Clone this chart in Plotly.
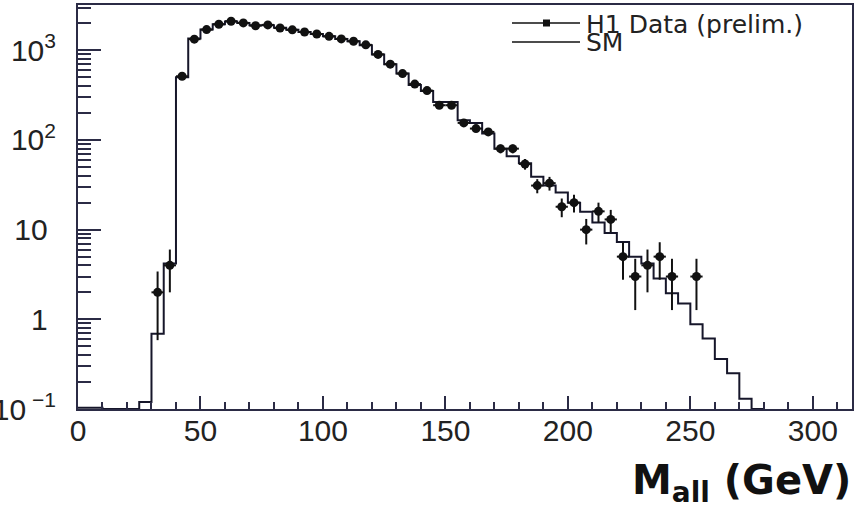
import numpy as np
import plotly.graph_objects as go

# ---------------- data ----------------
sm_edges_low = [0, 5, 10, 15, 20, 25, 30, 35, 40, 45, 50, 55, 60, 65, 70, 75, 80, 85, 90, 95,
                100, 105, 110, 115, 120, 125, 130, 135, 140, 145, 150, 155, 160, 165, 170, 175,
                180, 185, 190, 195, 200, 205, 210, 215, 220, 225, 230, 235, 240, 245, 250, 255,
                260, 265, 270, 275]
sm_values = [0.103, 0.103, 0.1, 0.1, 0.1, 0.12, 0.69, 4.2, 500, 1350, 1700, 1950, 2100, 2020,
             1900, 1900, 1780, 1690, 1600, 1520, 1430, 1340, 1260, 1140, 900, 700, 550, 410,
             352, 265, 265, 166, 155, 118, 80, 66, 55, 39, 31, 26, 20, 15.8, 12, 9.2, 7.3, 5.0,
             4.2, 2.86, 1.95, 1.5, 0.88, 0.61, 0.36, 0.25, 0.13, 0.1]
bin_width = 5

data_x = [32.5, 37.5, 42.5, 47.5, 52.5, 57.5, 62.5, 67.5, 72.5, 77.5, 82.5, 87.5, 92.5, 97.5,
          102.5, 107.5, 112.5, 117.5, 122.5, 127.5, 132.5, 137.5, 142.5, 147.5, 152.5, 157.5,
          162.5, 167.5, 172.5, 177.5, 182.5, 187.5, 192.5, 197.5, 202.5, 207.5, 212.5, 217.5,
          222.5, 227.5, 232.5, 237.5, 242.5, 252.5]
data_y = [2, 4, 513, 1330, 1700, 1950, 2110, 2020, 1880, 1920, 1770, 1690, 1600, 1520, 1430,
          1340, 1260, 1150, 900, 700, 550, 420, 355, 244, 244, 155, 134, 123, 80, 80, 54, 31,
          33, 18, 20, 10, 16, 13, 5, 3, 4, 5, 3, 3]

x_tickvals = [0, 50, 100, 150, 200, 250, 300]
y_tickvals = [0.1, 1, 10, 100, 1000]
y_ticktext = ["10<sup>\u00a0\u22121</sup>", "1\u00a0", "10\u00a0", "10<sup>2</sup>", "10<sup>3</sup>"]
legend_labels = ["H1 Data (prelim.)", "SM"]
x_title = "<b>M<sub>all</sub> (GeV)</b>"

# ---------------- figure ----------------
AX = "#2b2b45"
INK = "#111111"
FONT = "Liberation Sans"
WIDE = "DejaVu Sans"

sm_x = list(sm_edges_low) + [sm_edges_low[-1] + bin_width]
sm_y = list(sm_values) + [sm_values[-1]]

fig = go.Figure()
fig.add_trace(go.Scatter(
    x=sm_x, y=sm_y, mode="lines", line=dict(shape="hv", color="#16162a", width=2),
    showlegend=False, hoverinfo="skip"))
fig.add_trace(go.Scatter(
    x=data_x, y=data_y, mode="markers",
    marker=dict(symbol="circle", size=9, color=INK),
    error_y=dict(type="data", array=list(np.sqrt(data_y)), width=0, thickness=2, color=INK),
    error_x=dict(type="constant", value=bin_width / 2, width=0, thickness=2, color=INK),
    showlegend=False))

minor_y = [m * 10.0 ** d for d in range(-1, 4) for m in range(2, 10) if m * 10.0 ** d < 3300]

fig.update_layout(
    template="none",
    width=855, height=511,
    margin=dict(l=78, r=3, t=5, b=102, autoexpand=False),
    paper_bgcolor="white", plot_bgcolor="white",
    showlegend=False,
    font=dict(family=FONT, color="#222222"),
    xaxis=dict(
        range=[0, 316], showgrid=False, zeroline=False,
        showline=True, linecolor=AX, linewidth=2, mirror=True,
        ticks="inside", ticklen=13, tickwidth=1.5, tickcolor=AX,
        tickvals=x_tickvals, tickfont=dict(size=30, family=FONT, color="#222222"),
        ticklabelstandoff=-6,
        minor=dict(ticks="inside", ticklen=7, tickwidth=1.5, tickcolor=AX, dtick=10, showgrid=False),
        automargin=False,
    ),
    yaxis=dict(
        type="log", range=[-1, 3.505], showgrid=False, zeroline=False,
        showline=True, linecolor=AX, linewidth=2, mirror=True,
        ticks="inside", ticklen=23, tickwidth=1.5, tickcolor=AX,
        tickvals=y_tickvals, ticktext=y_ticktext,
        tickfont=dict(size=30, family=FONT, color="#222222"),
        ticklabelstandoff=14,
        minor=dict(ticks="inside", ticklen=13, tickwidth=1.5, tickcolor=AX,
                   tickmode="array", tickvals=minor_y, showgrid=False),
        automargin=False,
    ),
)

# manual legend (pixel positions converted to paper coordinates)
def px(x):
    return (x - 78) / (852 - 78)

def py(y):
    return (409 - y) / (409 - 5)

for row, yy in enumerate([23, 42]):
    fig.add_shape(type="line", xref="paper", yref="paper",
                  x0=px(512), x1=px(580), y0=py(yy), y1=py(yy),
                  line=dict(color=INK, width=1.5))
    fig.add_annotation(xref="paper", yref="paper", x=px(584), y=py(yy + 1),
                       xanchor="left", yanchor="middle", showarrow=False,
                       text=legend_labels[row],
                       font=dict(size=25, family=WIDE, color="#222222"))
fig.add_shape(type="rect", xref="paper", yref="paper",
              x0=px(543), x1=px(550), y0=py(26.5), y1=py(19.5),
              fillcolor=INK, line=dict(width=0))

fig.add_annotation(xref="paper", yref="paper", x=px(853), y=py(483),
                   xanchor="right", yanchor="middle", showarrow=False,
                   text=x_title, font=dict(size=40, family=WIDE, color="#111111"))

fig.write_html("out.html")
